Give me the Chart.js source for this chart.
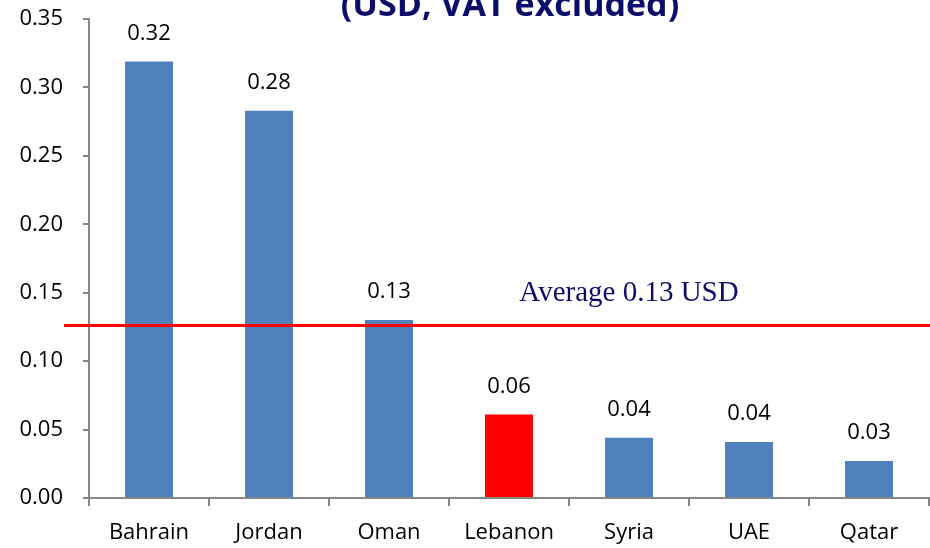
<!DOCTYPE html>
<html>
<head>
<meta charset="utf-8">
<script src="https://cdn.jsdelivr.net/npm/chart.js@4/dist/chart.umd.min.js"></script>
<style>
  html, body { margin: 0; padding: 0; background: #fff; }
  #wrap { width: 930px; height: 548px; position: relative; }
</style>
</head>
<body>
<div id="wrap"><canvas id="chart"></canvas></div>
<script>
const countries = ["Bahrain", "Jordan", "Oman", "Lebanon", "Syria", "UAE", "Qatar"];
const prices = [0.319, 0.283, 0.130, 0.061, 0.044, 0.041, 0.027];
const priceLabels = ["0.32", "0.28", "0.13", "0.06", "0.04", "0.04", "0.03"];
const average = 0.126;
const averageText = "Average 0.13 USD";
const titleText = "(USD, VAT excluded)";

const blue = "#4f81bd";
const red = "#ff0000";
const axisGrey = "#868686";
const navy = "#0c0c6a";

const barColors = countries.map((c) => (c === "Lebanon" ? red : blue));

// value labels above the bars
const valueLabels = {
  id: "valueLabels",
  afterDatasetsDraw(chart) {
    const ctx = chart.ctx;
    const meta = chart.getDatasetMeta(0);
    ctx.save();
    ctx.font = "22px 'Open Sans', sans-serif";
    ctx.fillStyle = "#000";
    ctx.textAlign = "center";
    ctx.textBaseline = "middle";
    meta.data.forEach((bar, i) => {
      ctx.fillText(priceLabels[i], bar.x, bar.y - 28);
    });
    ctx.restore();
  },
};

// red average line plus its caption, and the clipped title at the top
const averageLine = {
  id: "averageLine",
  afterDraw(chart) {
    const ctx = chart.ctx;
    const y = chart.scales.y.getPixelForValue(average);
    const xs = chart.scales.x;
    ctx.save();
    ctx.strokeStyle = red;
    ctx.lineWidth = 3;
    ctx.beginPath();
    ctx.moveTo(64, y);
    ctx.lineTo(chart.width, y);
    ctx.stroke();

    ctx.font = "29px 'Liberation Serif', 'DejaVu Serif', serif";
    ctx.fillStyle = navy;
    ctx.textAlign = "center";
    ctx.textBaseline = "alphabetic";
    ctx.fillText(averageText, xs.getPixelForValue(4), y - 25);

    ctx.font = "bold 34px 'Open Sans', sans-serif";
    ctx.fillStyle = navy;
    ctx.fillText(titleText, 510, 16);
    ctx.restore();
  },
};

new Chart(document.getElementById("chart"), {
  type: "bar",
  data: {
    labels: countries,
    datasets: [
      {
        data: prices,
        backgroundColor: barColors,
        barPercentage: 0.4,
        categoryPercentage: 1,
      },
    ],
  },
  options: {
    responsive: true,
    maintainAspectRatio: false,
    animation: false,
    layout: { padding: { top: 19, right: 1, left: 0, bottom: 0 } },
    plugins: {
      legend: { display: false },
      tooltip: { enabled: false },
    },
    scales: {
      x: {
        offset: true,
        grid: {
          offset: true,
          drawOnChartArea: false,
          tickLength: 8,
          color: axisGrey,
          lineWidth: 2,
        },
        border: { color: axisGrey, width: 2 },
        ticks: {
          color: "#000",
          font: { family: "'Open Sans', sans-serif", size: 22 },
          padding: 14,
          maxRotation: 0,
        },
        afterFit(scale) {
          scale.height = 50;
          scale.paddingLeft = 0;
          scale.paddingRight = 0;
        },
      },
      y: {
        min: 0,
        max: 0.35,
        grid: {
          drawOnChartArea: false,
          tickLength: 6,
          color: axisGrey,
          lineWidth: 2,
        },
        border: { color: axisGrey, width: 2 },
        ticks: {
          stepSize: 0.05,
          color: "#000",
          padding: 20,
          font: { family: "'Open Sans', sans-serif", size: 22 },
          callback: (v) => v.toFixed(2),
        },
        afterFit(scale) {
          scale.width = 89;
          scale.paddingTop = 0;
          scale.paddingBottom = 0;
        },
      },
    },
  },
  plugins: [valueLabels, averageLine],
});
</script>
</body>
</html>
